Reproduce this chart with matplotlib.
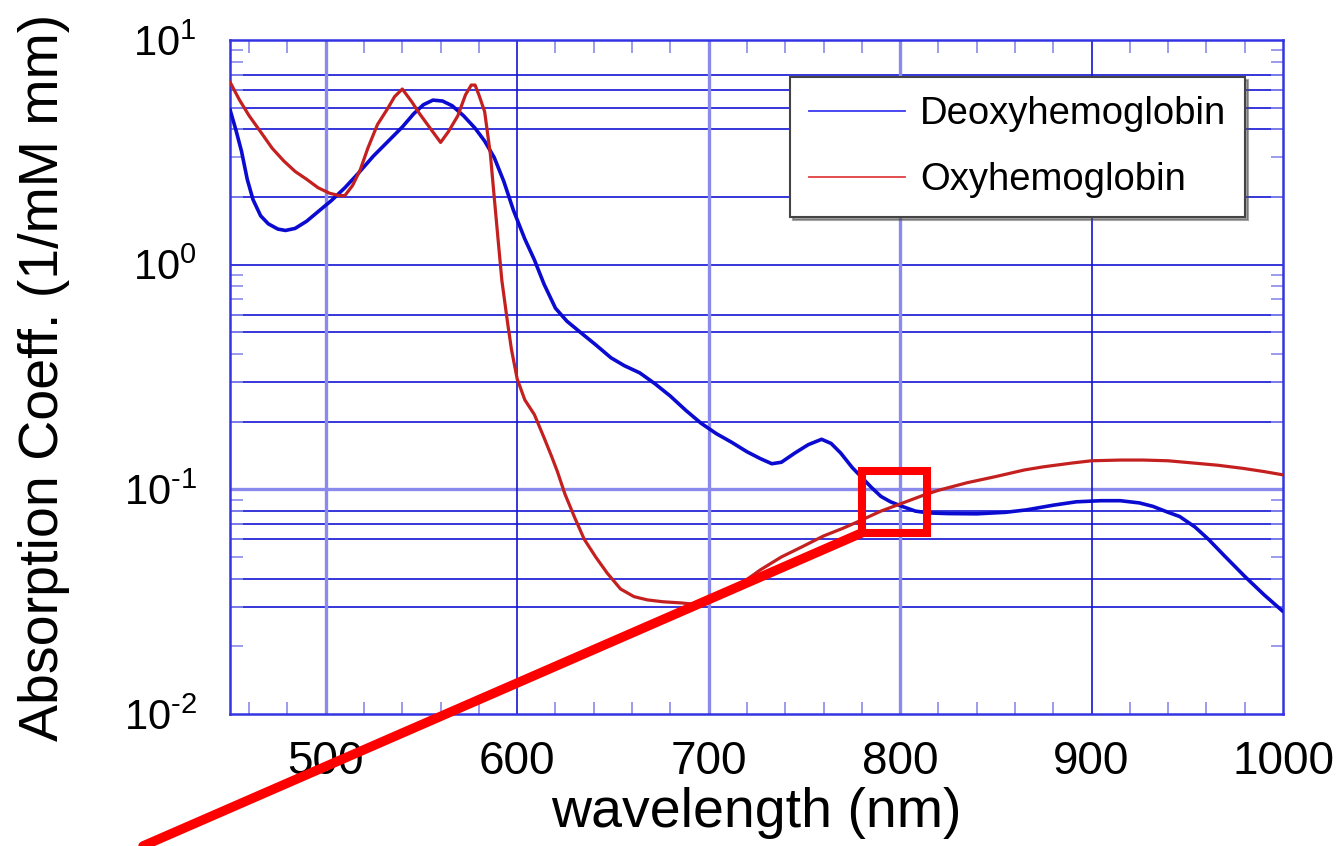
import numpy as np
import matplotlib
matplotlib.use("Agg")
import matplotlib.pyplot as plt
from matplotlib.lines import Line2D
from matplotlib.patches import Rectangle
from matplotlib.ticker import MultipleLocator, LogLocator, NullFormatter, FuncFormatter

plt.rcParams["font.family"] = ["Liberation Sans", "DejaVu Sans"]
plt.rcParams["mathtext.fontset"] = "custom"
plt.rcParams["mathtext.rm"] = "Liberation Sans"
plt.rcParams["axes.unicode_minus"] = False

### data (wavelength in nm, coefficient in 1/(mM mm))
deoxy_nm = [450, 453, 456, 459, 462, 466, 470, 475, 479, 484, 490, 497, 503, 510,
            517, 525, 532, 540, 546, 551, 556, 561, 566, 572, 578, 583, 588, 593,
            598, 604, 609, 614, 620, 626, 633, 641, 649, 656, 664, 672, 680, 688,
            696, 704, 712, 720, 727, 733, 738, 745, 752, 759, 764, 769, 775, 780,
            785, 790, 795, 801, 808, 815, 825, 840, 855, 866, 880, 892, 905, 915,
            925, 932, 940, 946, 954, 961, 970, 980, 990, 1000]
deoxy_val = [4.9, 4.0, 3.2, 2.4, 1.95, 1.65, 1.52, 1.44, 1.42, 1.45, 1.56, 1.75,
             1.93, 2.2, 2.55, 3.05, 3.5, 4.1, 4.7, 5.15, 5.4, 5.35, 5.1, 4.6,
             4.05, 3.55, 3.0, 2.35, 1.75, 1.3, 1.05, 0.82, 0.64, 0.56, 0.50, 0.44,
             0.385, 0.355, 0.33, 0.295, 0.26, 0.225, 0.197, 0.177, 0.162, 0.147,
             0.137, 0.13, 0.132, 0.145, 0.158, 0.167, 0.16, 0.145, 0.125, 0.113,
             0.102, 0.093, 0.088, 0.084, 0.080, 0.0785, 0.078, 0.0778, 0.079,
             0.081, 0.085, 0.088, 0.089, 0.089, 0.087, 0.084, 0.079, 0.0757,
             0.068, 0.060, 0.050, 0.041, 0.034, 0.0286]

oxy_nm = [450, 455, 460, 466, 472, 478, 484, 490, 496, 502, 507, 510, 514, 518,
          522, 527, 532, 536, 540, 545, 549, 555, 560, 564, 569, 573, 576, 578,
          580, 583, 586, 588, 590, 592, 595, 597, 600, 604, 609, 614, 618, 621,
          625, 630, 635, 641, 647, 654, 661, 668, 676, 686, 696, 705, 715, 727,
          738, 749, 760, 770, 778, 790, 801, 812, 820, 835, 850, 865, 875, 890,
          900, 915, 927, 940, 953, 966, 979, 990, 1000]
oxy_val = [6.5, 5.4, 4.6, 3.9, 3.3, 2.9, 2.6, 2.4, 2.2, 2.08, 2.03, 2.03, 2.25,
           2.64, 3.3, 4.2, 4.9, 5.6, 6.05, 5.3, 4.7, 4.0, 3.5, 3.9, 4.6, 5.7, 6.3,
           6.3, 5.7, 4.8, 3.1, 2.0, 1.3, 0.85, 0.55, 0.42, 0.31, 0.25, 0.215,
           0.17, 0.14, 0.12, 0.095, 0.075, 0.06, 0.05, 0.0424, 0.036, 0.0333,
           0.0322, 0.0316, 0.0312, 0.0306, 0.033, 0.037, 0.0438, 0.050, 0.0556,
           0.062, 0.067, 0.0718, 0.080, 0.0867, 0.094, 0.099, 0.107, 0.114,
           0.122, 0.126, 0.131, 0.134, 0.135, 0.135, 0.134, 0.131, 0.128, 0.124,
           0.120, 0.116]

# horizontal rules drawn across the plot, and the vertical ones
hline_vals = [7, 6, 5, 4, 2, 1, 0.6, 0.5, 0.3, 0.2, 0.1, 0.08, 0.07, 0.06, 0.04, 0.03]
hline_faint = [0.1]
vline_vals = [500, 600, 700, 800, 900]
vline_faint = [500, 700, 800]

# highlighted crossing box (nm, coeff)
box_nm = [780, 814]
box_val = [0.064, 0.121]

dark_blue = "#1414d6"
faint_blue = "#8a8aec"


# 10^n labels with a short hyphen for negative powers
def decade_label(v, pos):
    p = int(round(np.log10(v)))
    if p < 0:
        return r"$10^{\text{-}%d}$" % (-p)
    return r"$10^{%d}$" % p


fig = plt.figure(figsize=(13.38, 8.46), dpi=100)
ax = fig.add_axes([230 / 1338, 132 / 846, 1053 / 1338, 674 / 846])
ax.set_yscale("log")
ax.set_xlim(450, 1000)
ax.set_ylim(0.01, 10)

for v in hline_vals:
    if v in hline_faint:
        ax.axhline(v, color=faint_blue, lw=2.4, zorder=1)
    else:
        ax.axhline(v, color=dark_blue, lw=1.2, zorder=1)
for v in vline_vals:
    if v in vline_faint:
        ax.axvline(v, color=faint_blue, lw=2.4, zorder=1)
    else:
        ax.axvline(v, color=dark_blue, lw=1.2, zorder=1)

ax.plot(deoxy_nm, deoxy_val, color="#0a0ad0", lw=2.6, zorder=3,
        solid_joinstyle="round", solid_capstyle="round")
ax.plot(oxy_nm, oxy_val, color="#c42020", lw=2.3, zorder=3,
        solid_joinstyle="round", solid_capstyle="round")

# ticks
ax.xaxis.set_major_locator(MultipleLocator(100))
ax.xaxis.set_minor_locator(MultipleLocator(20))
ax.yaxis.set_major_locator(LogLocator(base=10, numticks=10))
ax.yaxis.set_major_formatter(FuncFormatter(decade_label))
ax.yaxis.set_minor_locator(LogLocator(base=10, subs=np.arange(2, 10), numticks=20))
ax.yaxis.set_minor_formatter(NullFormatter())
ax.tick_params(which="both", direction="in", top=True, right=True,
               color=faint_blue)
ax.tick_params(which="major", length=0)
ax.tick_params(which="minor", length=9, width=1.2)
ax.tick_params(axis="x", which="major", labelsize=33, pad=19)
ax.tick_params(axis="y", which="major", labelsize=30, pad=24)

for s in ax.spines.values():
    s.set_color("#3434e2")
    s.set_linewidth(1.8)

ax.set_xlabel("wavelength (nm)", fontsize=40)
ax.set_ylabel("Absorption Coeff. (1/mM mm)", fontsize=40)
ax.xaxis.set_label_coords(0.5, -0.108)
ax.yaxis.set_label_coords(-0.152, 0.5)

handles = [
    Line2D([], [], color="#3a3af0", lw=1.3),
    Line2D([], [], color="#e04040", lw=1.3),
]
leg = ax.legend(handles, ["Deoxyhemoglobin", "Oxyhemoglobin"],
                loc="upper left", bbox_to_anchor=(0.532, 0.945),
                borderaxespad=0, fontsize=27.5, fancybox=False, shadow=True,
                handlelength=2.5, handletextpad=0.4, labelspacing=0.78,
                borderpad=0.5, framealpha=1)
leg.get_frame().set_edgecolor("#444444")
leg.get_frame().set_linewidth(1.5)
leg.set_zorder(5)

# red call-out: box round the crossing and a pointer running off the figure
ax.add_patch(Rectangle((box_nm[0], box_val[0]), box_nm[1] - box_nm[0],
                       box_val[1] - box_val[0], fill=False, edgecolor="#ff0000",
                       lw=5.8, zorder=6, clip_on=False))
ax.annotate("", xy=(box_nm[0], box_val[0]), xycoords="data",
            xytext=(143 / 1338, 0.0), textcoords="figure fraction",
            arrowprops=dict(arrowstyle="-", color="#ff0000", lw=6.8,
                            shrinkA=0, shrinkB=0),
            zorder=6, annotation_clip=False)

fig.savefig("out.png", dpi=100)
